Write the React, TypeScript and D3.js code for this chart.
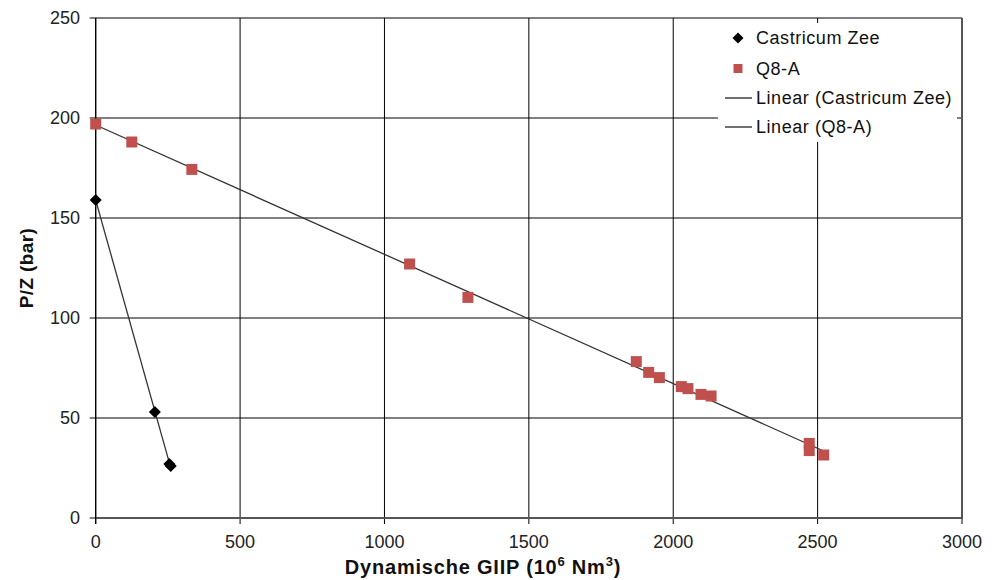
import React from "react";
import * as d3 from "d3";

// Castricum Zee: cumulative production vs P/Z
const castricumGiip = [0, 205, 255, 260];
const castricumPz = [159, 53, 27, 26];

// Q8-A: cumulative production vs P/Z
const q8aGiip = [0, 125, 333, 1087, 1289, 1872, 1915, 1952, 2028, 2051, 2096, 2131, 2471, 2471, 2521];
const q8aPz = [197, 188, 174.3, 127, 110.3, 78.2, 72.8, 70.2, 65.7, 64.7, 61.8, 61, 37.3, 33.7, 31.5];

const xTicks = [0, 500, 1000, 1500, 2000, 2500, 3000];
const yTicks = [0, 50, 100, 150, 200, 250];

const legendLabels = ["Castricum Zee", "Q8-A", "Linear (Castricum Zee)", "Linear (Q8-A)"];

const W = 996;
const H = 580;
const plot = { left: 95.7, right: 962, top: 18, bottom: 518 };
const RED = "#C0504D";
const FONT = "'Liberation Sans', Arial, sans-serif";

// Least-squares fit y = a + b x
function fit(xs: number[], ys: number[]) {
  const mx = d3.mean(xs)!;
  const my = d3.mean(ys)!;
  let sxy = 0;
  let sxx = 0;
  xs.forEach((x, i) => {
    sxy += (x - mx) * (ys[i] - my);
    sxx += (x - mx) * (x - mx);
  });
  const b = sxy / sxx;
  const a = my - b * mx;
  const [x0, x1] = d3.extent(xs) as [number, number];
  return [
    [x0, a + b * x0],
    [x1, a + b * x1],
  ] as [number, number][];
}

export default function App() {
  const x = d3.scaleLinear().domain([0, 3000]).range([plot.left, plot.right]);
  const y = d3.scaleLinear().domain([0, 250]).range([plot.bottom, plot.top]);
  const line = d3
    .line<[number, number]>()
    .x((d) => x(d[0]))
    .y((d) => y(d[1]));

  const castFit = fit(castricumGiip, castricumPz);
  const q8Fit = fit(q8aGiip, q8aPz);

  const diamond = (cx: number, cy: number, r: number) =>
    `M${cx},${cy - r}L${cx + r},${cy}L${cx},${cy + r}L${cx - r},${cy}Z`;

  const lg = { x: 718, y: 23, w: 239, h: 119 };
  const rowY = [38, 68.5, 98, 127];

  return (
    <svg
      width={W}
      height={H}
      viewBox={`0 0 ${W} ${H}`}
      style={{ position: "absolute", left: 0, top: 0, background: "#fff" }}
      fontFamily={FONT}
    >
      <rect x={0} y={0} width={W} height={H} fill="#fff" />

      {/* grid */}
      {xTicks.map((t) => (
        <line key={`gx${t}`} x1={x(t)} x2={x(t)} y1={plot.top} y2={plot.bottom + 6} stroke="#000" strokeWidth={1} />
      ))}
      {yTicks.map((t) => (
        <line key={`gy${t}`} x1={plot.left - 6} x2={plot.right} y1={y(t)} y2={y(t)} stroke="#000" strokeWidth={1} />
      ))}
      {/* frame */}
      <line x1={plot.right} x2={plot.right} y1={plot.top} y2={plot.bottom} stroke="#555" strokeWidth={2} />
      <line x1={plot.left} x2={plot.right + 1} y1={plot.bottom} y2={plot.bottom} stroke="#555" strokeWidth={2} />
      <line x1={plot.left} x2={plot.left} y1={plot.top} y2={plot.bottom + 6} stroke="#000" strokeWidth={1.2} />

      {/* tick labels */}
      {xTicks.map((t) => (
        <text key={`tx${t}`} x={x(t)} y={548} textAnchor="middle" fontSize={18} fill="#222">
          {t}
        </text>
      ))}
      {yTicks.map((t) => (
        <text key={`ty${t}`} x={80} y={y(t)} dy="0.35em" textAnchor="end" fontSize={18} fill="#222">
          {t}
        </text>
      ))}

      {/* axis titles */}
      <text x={483} y={574} textAnchor="middle" fontSize={20} fontWeight="bold" fill="#111" letterSpacing={0.8}>
        Dynamische GIIP (10
        <tspan fontSize={13} dy={-8}>6</tspan>
        <tspan dy={8}> Nm</tspan>
        <tspan fontSize={13} dy={-8}>3</tspan>
        <tspan dy={8}>)</tspan>
      </text>
      <text
        transform={`translate(33, ${(plot.top + plot.bottom) / 2}) rotate(-90)`}
        textAnchor="middle"
        fontSize={19}
        fontWeight="bold"
        fill="#111"
        letterSpacing={0.4}
      >
        P/Z (bar)
      </text>

      {/* trend lines */}
      <path d={line(castFit)!} fill="none" stroke="#333" strokeWidth={1.3} />
      <path d={line(q8Fit)!} fill="none" stroke="#333" strokeWidth={1.3} />

      {/* Castricum Zee points */}
      {castricumGiip.map((g, i) => (
        <path key={`c${i}`} d={diamond(x(g), y(castricumPz[i]), 6)} fill="#000" />
      ))}
      {/* Q8-A points */}
      {q8aGiip.map((g, i) => (
        <rect key={`q${i}`} x={x(g) - 5.5} y={y(q8aPz[i]) - 5.5} width={11} height={11} fill={RED} />
      ))}

      {/* legend */}
      <rect x={lg.x} y={lg.y} width={lg.w} height={lg.h} fill="#fff" />
      <path d={diamond(738, rowY[0], 5.5)} fill="#000" />
      <rect x={733.5} y={rowY[1] - 4.5} width={9} height={9} fill={RED} />
      <line x1={725} x2={752} y1={rowY[2]} y2={rowY[2]} stroke="#222" strokeWidth={1.3} />
      <line x1={725} x2={752} y1={rowY[3]} y2={rowY[3]} stroke="#222" strokeWidth={1.3} />
      {legendLabels.map((l, i) => (
        <text key={l} x={756} y={rowY[i]} dy="0.36em" fontSize={18} fill="#111" letterSpacing={0.55}>
          {l}
        </text>
      ))}
    </svg>
  );
}
